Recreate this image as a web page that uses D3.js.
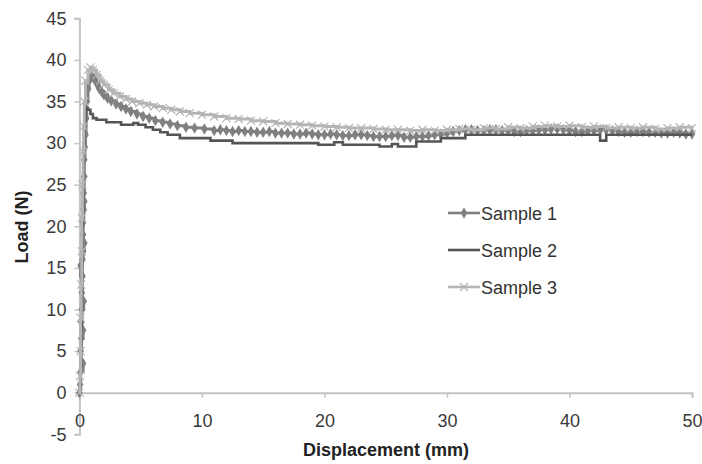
<!DOCTYPE html>
<html>
<head>
<meta charset="utf-8">
<script src="https://d3js.org/d3.v7.min.js"></script>
<style>
body { margin: 0; background: #fff; }
text { font-family: Arial, "Liberation Sans", sans-serif; }
</style>
</head>
<body>
<svg width="702" height="464"></svg>
<script>
// [displacement mm, load N]
var sample1 = [[0,0],[0.05,1],[0.1,2.5],[0.3,3.5],[0.1,5],[0.15,6.5],[0.3,7.5],[0.15,8.5],[0.2,10],[0.35,11],[0.2,12],[0.25,14],[0.1,15.3],[0.25,16],
  [0.3,17],[0.4,18],[0.3,19],[0.3,20.5],[0.35,22],[0.4,23],[0.35,24],[0.4,26],[0.4,28],[0.45,29.5],[0.5,31],[0.55,33],
  [0.6,35],[0.7,36.5],[0.8,37.5],[1.0,38],[1.2,37.8],[1.4,37.2],[1.6,36.6],[1.8,36.2],[2.0,35.8],[2.3,35.4],
  [2.6,35.1],[3.0,34.7],[3.4,34.4],[3.8,34.1],[4.2,33.8],[4.7,33.5],[5.2,33.2],[5.7,33.0],[6.2,32.7],[6.8,32.5],
  [7.4,32.3],[8.0,32.1],[8.7,31.9],[9.4,31.8],[10.2,31.7],[11,31.5],[11.5,31.6],[12,31.5],[12.5,31.4],[13,31.5],
  [13.5,31.4],[14,31.4],[14.5,31.3],[15,31.3],[15.5,31.4],[16,31.2],[16.5,31.2],[17,31.2],[17.5,31.1],[18,31.1],
  [18.5,31.2],[19,31.1],[19.5,31.0],[20,31.0],[20.5,31.1],[21,31.0],[21.5,30.9],[22,30.9],[22.5,31.0],[23,31.0],
  [23.5,30.9],[24,30.8],[24.5,30.8],[25,30.8],[25.5,30.9],[26,30.9],[26.5,30.7],[27,30.7],[27.5,30.8],[28,30.8],
  [28.5,30.9],[29,31.0],[29.5,31.1],[30,31.2],[30.5,31.4],[31,31.5],[31.5,31.6],[32,31.6],[32.5,31.5],[33,31.5],
  [33.5,31.6],[34,31.6],[34.5,31.5],[35,31.5],[35.5,31.4],[36,31.4],[36.5,31.5],[37,31.5],[37.5,31.6],[38,31.6],
  [38.5,31.7],[39,31.7],[39.5,31.6],[40,31.5],[40.5,31.4],[41,31.4],[41.5,31.5],[42,31.5],[42.5,31.6],[43,31.6],
  [43.5,31.5],[44,31.4],[44.5,31.3],[45,31.3],[45.5,31.4],[46,31.4],[46.5,31.3],[47,31.3],[47.5,31.2],[48,31.2],
  [48.5,31.3],[49,31.2],[49.5,31.1],[50,31.1]];

var sample2 = [[0,0],[0.1,3],[0.15,8],[0.2,14],[0.25,20],[0.3,26],[0.35,30],[0.4,32.5],[0.5,34.2],[0.7,34.0],
  [0.9,33.5],[1.1,33.0],[1.4,32.8],[2.2,32.5],[3.4,32.2],[4.4,32.4],[4.8,32.2],[5.4,31.9],[6.0,31.6],[6.6,31.3],
  [7.2,31.0],[8.2,30.6],[10.7,30.3],[12.5,30.0],[19.5,29.8],[20.8,30.1],[21.5,29.8],[24.5,29.6],[25.5,29.9],[26,29.6],
  [27.5,30.2],[29.5,30.6],[31.5,31.0],[42.3,31.0],[42.5,30.3],[43,31.0],[50,31.0]];

var sample3 = [[0,0],[0.05,2],[0.1,5],[0.1,9],[0.15,13],[0.2,17],[0.2,21],[0.25,25],[0.3,29],[0.35,32],
  [0.4,35],[0.5,37.5],[0.7,38.8],[0.9,39.1],[1.1,38.8],[1.4,38.2],[1.7,37.5],[2.0,37.0],[2.4,36.4],[2.8,36.0],
  [3.3,35.6],[3.8,35.3],[4.3,35.0],[4.9,34.8],[5.5,34.6],[6.1,34.4],[6.8,34.2],[7.5,34.0],[8.2,33.8],[9,33.6],
  [10,33.4],[11,33.2],[12,33.0],[13,32.9],[14,32.7],[15,32.6],[16,32.4],[17,32.3],[18,32.2],[19,32.1],
  [20,32.0],[21,31.9],[22,31.8],[23,31.8],[24,31.7],[25,31.6],[26,31.6],[27,31.5],[28,31.6],[29,31.5],
  [30,31.6],[31,31.7],[32,31.6],[33,31.8],[34,31.7],[35,31.9],[36,31.8],[37,32.0],[38,32.1],[39,32.0],
  [40,32.1],[41,31.9],[42,32.0],[43,31.8],[44,31.9],[45,31.8],[46,31.9],[47,31.7],[48,31.8],[49,31.9],[50,31.8]];

var seriesNames = ['Sample 1', 'Sample 2', 'Sample 3'];
var xTicks = [0, 10, 20, 30, 40, 50];
var yTicks = [-5, 0, 5, 10, 15, 20, 25, 30, 35, 40, 45];

var svg = d3.select('svg');

var x = d3.scaleLinear().domain([0, 50]).range([79.4, 692]);
var y = d3.scaleLinear().domain([-5, 45]).range([434.3, 18.3]);

var axisColor = '#c4c4c4';
var fmt = function(d){ return String(d); };  // plain hyphen minus like the original

// y axis
var yAxis = svg.append('g')
    .attr('transform', 'translate(' + x(0) + ',0)')
    .call(d3.axisLeft(y).tickValues(yTicks).tickFormat(fmt).tickSize(5).tickPadding(8));
// x axis at load = 0
var xAxis = svg.append('g')
    .attr('transform', 'translate(0,' + y(0) + ')')
    .call(d3.axisBottom(x).tickValues(xTicks).tickFormat(fmt).tickSize(5).tickPadding(0));

[yAxis, xAxis].forEach(function(g){
    g.select('.domain').attr('stroke', axisColor).attr('stroke-width', 2);
    g.selectAll('.tick line').attr('stroke', axisColor).attr('stroke-width', 1.5);
    g.selectAll('.tick text')
        .style('font-size', '18px')
        .attr('fill', '#3a3a3a')
        .style('font-family', 'Arial, "Liberation Sans", sans-serif');
});
xAxis.selectAll('.tick text').attr('dy', null).attr('y', 34);

var line = d3.line()
    .x(function(d){ return x(d[0]); })
    .y(function(d){ return y(d[1]); })
    .curve(d3.curveStepAfter);

var styles = [
    {color: '#808080'},
    {color: '#555555'},
    {color: '#b5b5b5'}
];

var plot = svg.append('g');

// Sample 1 with diamonds
plot.append('path').datum(sample1)
    .attr('d', line)
    .attr('fill', 'none').attr('stroke', styles[0].color).attr('stroke-width', 3);
plot.selectAll('.d1').data(sample1).enter().append('path')
    .attr('class', 'd1')
    .attr('d', d3.symbol().type(d3.symbolDiamond).size(38))
    .attr('transform', function(d){ return 'translate(' + x(d[0]) + ',' + y(d[1]) + ')'; })
    .attr('fill', styles[0].color);

// Sample 2 plain line
plot.append('path').datum(sample2)
    .attr('d', line)
    .attr('fill', 'none').attr('stroke', styles[1].color).attr('stroke-width', 2.6);

// Sample 3 with x marks
plot.append('path').datum(sample3)
    .attr('d', line)
    .attr('fill', 'none').attr('stroke', styles[2].color).attr('stroke-width', 3);
plot.selectAll('.d3m').data(sample3).enter().append('path')
    .attr('class', 'd3m')
    .attr('d', d3.symbol().type(d3.symbolX).size(44))
    .attr('transform', function(d){ return 'translate(' + x(d[0]) + ',' + y(d[1]) + ')'; })
    .attr('fill', 'none').attr('stroke', styles[2].color).attr('stroke-width', 1.2);

// axis titles
svg.append('text')
    .attr('x', 386).attr('y', 456)
    .attr('text-anchor', 'middle')
    .style('font-size', '18px').style('font-weight', 'bold').attr('fill', '#222')
    .text('Displacement (mm)');
svg.append('text')
    .attr('transform', 'translate(28,227) rotate(-90)')
    .attr('text-anchor', 'middle')
    .style('font-size', '18px').style('font-weight', 'bold').attr('fill', '#222')
    .text('Load (N)');

// legend
var legend = svg.append('g');
var legY = [213, 250, 287];
seriesNames.forEach(function(name, i){
    var g = legend.append('g').attr('transform', 'translate(0,' + legY[i] + ')');
    g.append('line')
        .attr('x1', 448).attr('x2', 480).attr('y1', 0).attr('y2', 0)
        .attr('stroke', styles[i].color).attr('stroke-width', 2.6);
    if (i === 0) {
        g.append('path').attr('d', d3.symbol().type(d3.symbolDiamond).size(38)())
            .attr('transform', 'translate(464,0)').attr('fill', styles[0].color);
    }
    if (i === 2) {
        g.append('path').attr('d', d3.symbol().type(d3.symbolX).size(44)())
            .attr('transform', 'translate(464,0)').attr('fill', 'none')
            .attr('stroke', styles[2].color).attr('stroke-width', 1.2);
    }
    g.append('text')
        .attr('x', 481).attr('y', 7)
        .style('font-size', '18px').attr('fill', '#333')
        .text(name);
});
</script>
</body>
</html>
